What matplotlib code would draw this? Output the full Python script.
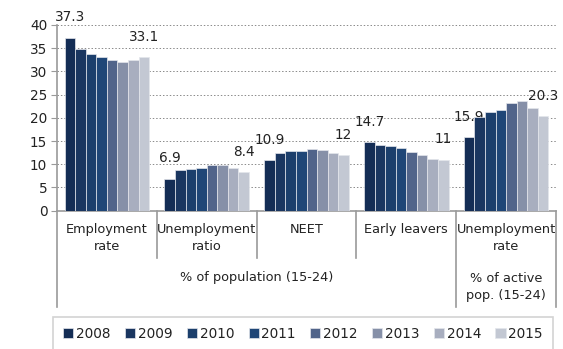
#!/usr/bin/env python3
"""
youth_labour.py - Grouped bar chart of youth labour market indicators, 2008-2015.
"""

import numpy as np
import matplotlib
matplotlib.use("Agg")
import matplotlib.pyplot as plt

years = ["2008", "2009", "2010", "2011", "2012", "2013", "2014", "2015"]
categories = ["Employment\nrate", "Unemployment\nratio", "NEET", "Early leavers",
              "Unemployment\nrate"]

# one list per year, one value per category
values = {
    "2008": [37.3, 6.9, 10.9, 14.7, 15.9],
    "2009": [34.8, 8.7, 12.4, 14.2, 20.2],
    "2010": [33.8, 9.0, 12.8, 13.9, 21.3],
    "2011": [33.2, 9.2, 12.9, 13.4, 21.6],
    "2012": [32.4, 9.8, 13.2, 12.7, 23.3],
    "2013": [32.0, 9.8, 13.0, 11.9, 23.6],
    "2014": [32.4, 9.2, 12.5, 11.2, 22.2],
    "2015": [33.1, 8.4, 12.0, 11.0, 20.3],
}

group_labels = ["% of population (15-24)", "% of active\npop. (15-24)"]

colors = ["#142d55", "#1a3660", "#1c3f6c", "#1f4677",
          "#51648a", "#8690a8", "#a8aebf", "#c3c8d3"]

W, H = 563, 349
GRID = "#9a9a9a"
TEXT = "#222222"
FS = 9.3

AX_BOTTOM = 210.7   # pixel row of y=0
AX_TOP = 25.0       # pixel row of y=40


def fy(py):
    """Pixel row (from top) to figure fraction."""
    return 1 - py / H


def ay(py):
    """Pixel row (from top) to axes fraction."""
    return (AX_BOTTOM - py) / (AX_BOTTOM - AX_TOP)


def main():
    plt.rcParams["font.family"] = ["DejaVu Sans"]
    fig = plt.figure(figsize=(W / 100, H / 100), dpi=100)
    ax = fig.add_axes([57 / W, fy(AX_BOTTOM), (556 - 57) / W, (AX_BOTTOM - AX_TOP) / H])

    n = len(years)
    width = 0.106
    x = np.arange(len(categories))
    for i, yr in enumerate(years):
        pos = x + (i - (n - 1) / 2) * width
        ax.bar(pos, values[yr], width, color=colors[i], edgecolor="#e4e6ec",
               linewidth=0.5, label=yr, zorder=3)
        # value labels on first and last year only
        if i in (0, n - 1):
            for px, v in zip(pos, values[yr]):
                ax.annotate(f"{v:g}", (px, v), xytext=(0, 9.5), textcoords="offset points",
                            ha="center", va="bottom", fontsize=FS + 0.5, color=TEXT)

    ax.set_xlim(-0.5, len(categories) - 0.5)
    ax.set_ylim(0, 40)
    ax.set_yticks(range(0, 41, 5))
    ax.tick_params(axis="y", length=4, color=GRID, labelsize=FS + 0.5, labelcolor=TEXT, pad=3)
    ax.set_xticks([])
    ax.yaxis.grid(True, linestyle=(0, (1.5, 2)), color="#8a8a8a", linewidth=0.7, zorder=0)
    for s in ("top", "right"):
        ax.spines[s].set_visible(False)
    for s in ("left", "bottom"):
        ax.spines[s].set_color(GRID)
        ax.spines[s].set_linewidth(1.2)

    # multi-level category axis drawn below the plot
    trans = ax.get_xaxis_transform()
    bounds = np.arange(len(categories) + 1) - 0.5
    for k, b in enumerate(bounds):
        outer = k in (0, len(categories) - 1, len(categories))
        end = 307 if outer else 258
        ax.plot([b, b], [0, ay(end)], transform=trans, color=GRID, lw=1.2,
                clip_on=False, zorder=1)

    for xi, lab in zip(x, categories):
        ax.text(xi, ay(223), lab, transform=trans, ha="center", va="top",
                fontsize=FS, color=TEXT, linespacing=1.4)
    ax.text(1.5, ay(278), group_labels[0], transform=trans, ha="center", va="center",
            fontsize=FS, color=TEXT)
    ax.text(4, ay(287.5), group_labels[1], transform=trans, ha="center", va="center",
            fontsize=FS, color=TEXT, linespacing=1.4)

    leg = fig.legend(loc="upper left", bbox_to_anchor=(53 / W, fy(317)), ncol=n,
                     frameon=True, fancybox=False, edgecolor="#c8c8c8",
                     fontsize=FS + 0.5, handlelength=0.75, handleheight=0.75,
                     handletextpad=0.2, columnspacing=1.05, borderpad=0.75,
                     borderaxespad=0)
    leg.get_frame().set_linewidth(1.2)
    for t in leg.get_texts():
        t.set_color(TEXT)

    fig.savefig("out.png", dpi=100)
    plt.close(fig)


if __name__ == "__main__":
    main()
